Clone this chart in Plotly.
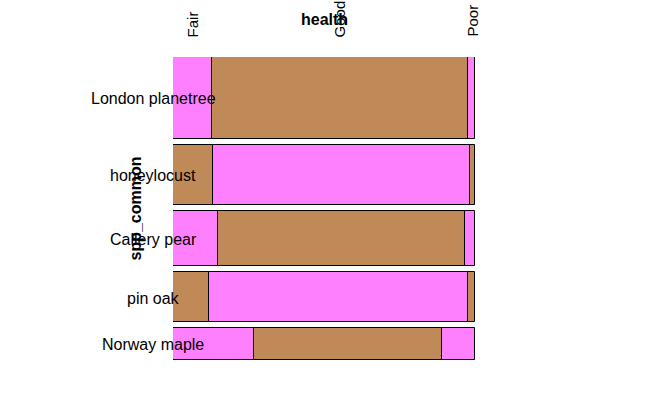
import plotly.graph_objects as go

species = ["London planetree", "honeylocust", "Callery pear", "pin oak", "Norway maple"]
health_levels = ["Fair", "Good", "Poor"]
fair = [11200, 8500, 8800, 6300, 9200]
good = [73800, 54700, 48200, 45600, 21300]
poor = [2000, 1100, 1950, 1250, 3700]

PINK = "#FF80FF"
BROWN = "#C08A58"

counts = [fair, good, poor]
totals = [sum(c[i] for c in counts) for i in range(len(species))]
grand = sum(totals)
gap = 6 / 303
avail = 1 - gap * (len(species) - 1)

# row positions (y axis reversed: 0 at top)
centers, heights = [], []
pos = 0.0
for t in totals:
    h = avail * t / grand
    centers.append(pos + h / 2)
    heights.append(h)
    pos += h + gap

fig = go.Figure()
for j, lvl in enumerate(health_levels):
    xs, bases, cols = [], [], []
    for i in range(len(species)):
        frac = [c[i] / totals[i] for c in counts]
        xs.append(frac[j])
        bases.append(sum(frac[:j]))
        cols.append(PINK if (i + j) % 2 == 0 else BROWN)
    fig.add_trace(go.Bar(
        y=centers, x=xs, base=bases, width=heights, orientation="h",
        marker=dict(color=cols, line=dict(color="black", width=1)),
        name=lvl, showlegend=False, hoverinfo="skip", cliponaxis=False,
    ))

font = dict(family="Liberation Sans, Arial, sans-serif", size=16, color="black")
font_col = dict(family="Liberation Sans, Arial, sans-serif", size=15, color="black")

# column labels at top (centers of first row's segments)
frac0 = [c[0] / totals[0] for c in counts]
cum = 0
for j, lvl in enumerate(health_levels):
    fig.add_annotation(x=cum + frac0[j] / 2, y=0, xref="x", yref="y",
                       text=lvl, textangle=-90, showarrow=False, font=font_col,
                       xanchor="center", yanchor="bottom", yshift=18)
    cum += frac0[j]

for i, sp in enumerate(species):
    fig.add_annotation(x=0, y=centers[i], xref="x", yref="y", text=sp,
                       showarrow=False, font=font, xanchor="center",
                       xshift=-20, yshift=-1)

fig.add_annotation(x=0.5, y=0, xref="paper", yref="y", text="<b>health</b>",
                   showarrow=False, font=font, xanchor="center", yshift=38)
fig.add_annotation(x=0, y=0.5, xref="paper", yref="paper", text="<b>spp_common</b>",
                   textangle=-90, showarrow=False, font=font,
                   xanchor="center", yanchor="middle", xshift=-38)

fig.update_layout(
    width=648, height=418,
    margin=dict(l=173, r=173, t=57, b=58),
    plot_bgcolor="white", paper_bgcolor="white",
    barmode="overlay", bargap=0,
    xaxis=dict(range=[0, 1], visible=False, fixedrange=True),
    yaxis=dict(range=[1, 0], visible=False, fixedrange=True),
)
fig.write_html("out.html", config={"displayModeBar": False},
               post_script="document.body.style.margin='0';")
